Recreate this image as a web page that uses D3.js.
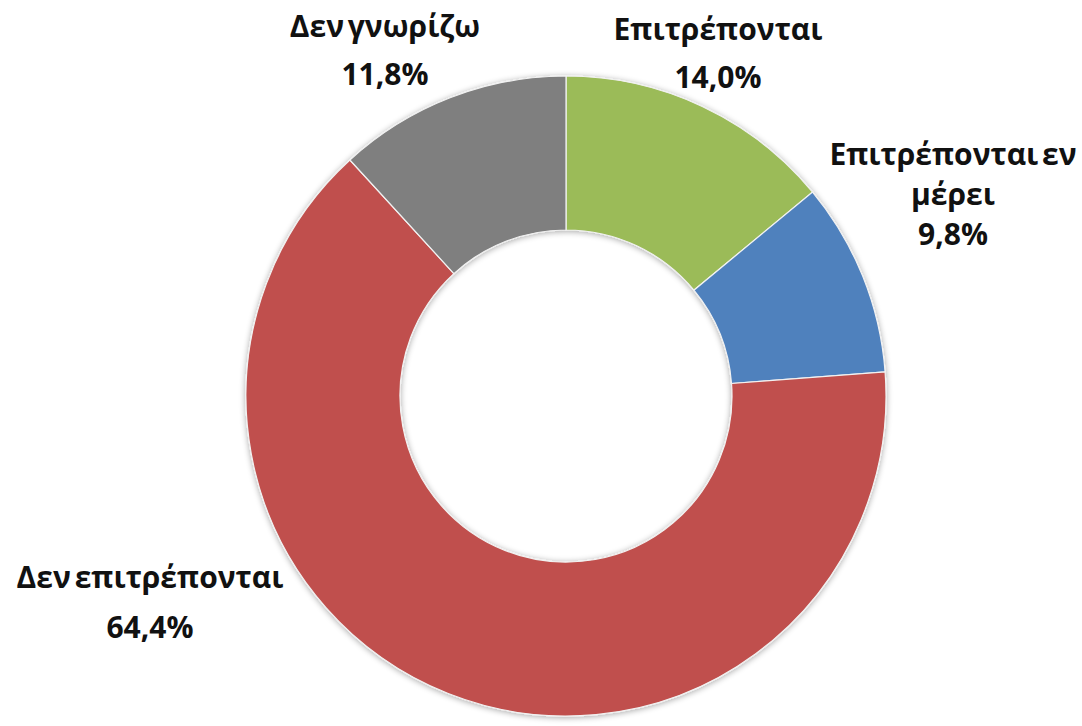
<!DOCTYPE html>
<html>
<head>
<meta charset="utf-8">
<script src="https://cdn.jsdelivr.net/npm/d3@7"></script>
<style>
  html, body { margin: 0; padding: 0; background: #fff; }
  svg { display: block; }
</style>
</head>
<body>
<svg width="1082" height="726"></svg>
<script>
// data
var categories = ['Επιτρέπονται', 'Επιτρέπονται εν μέρει', 'Δεν επιτρέπονται', 'Δεν γνωρίζω']
var values = [14.0, 9.8, 64.4, 11.8]
var labelLines = [
  ['Επιτρέπονται'],
  ['Επιτρέπονται εν', 'μέρει'],
  ['Δεν επιτρέπονται'],
  ['Δεν γνωρίζω']
]
var colors = ['#9bbb59', '#4f81bd', '#c0504d', '#7f7f7f']

// layout for labels: [x, y of first line, line step] in page px
var labelAt = [
  [718, 40, 48],
  [953, 165, 40],
  [150, 588, 50],
  [385, 37, 48]
]

var svg = d3.select('svg'),
    cx = 566,
    cy = 396,
    outerR = 320,
    innerR = 166

var fmt = function(v) { return d3.format('.1f')(v).replace('.', ',') + '%' }

var defs = svg.append('defs')
var filter = defs.append('filter')
    .attr('id', 'shadow')
    .attr('x', '-20%').attr('y', '-20%')
    .attr('width', '140%').attr('height', '140%')
filter.append('feGaussianBlur').attr('in', 'SourceAlpha').attr('stdDeviation', 3)
filter.append('feOffset').attr('dx', 0).attr('dy', 1).attr('result', 'blur')
filter.append('feComponentTransfer').append('feFuncA').attr('type', 'linear').attr('slope', 0.35)
var merge = filter.append('feMerge')
merge.append('feMergeNode')
merge.append('feMergeNode').attr('in', 'SourceGraphic')

var pie = d3.pie().sort(null).value(function(d) { return d })
var arc = d3.arc().innerRadius(innerR).outerRadius(outerR)

var g = svg.append('g')
    .attr('transform', 'translate(' + cx + ',' + cy + ')')
    .attr('filter', 'url(#shadow)')

g.selectAll('path')
  .data(pie(values))
  .enter().append('path')
    .attr('d', arc)
    .attr('fill', function(d, i) { return colors[i] })
    .attr('stroke', '#f2f2f2')
    .attr('stroke-width', 1.2)

var labels = svg.append('g')
    .attr('font-family', '"Open Sans", "Noto Sans", sans-serif')
    .attr('font-size', 30)
    .attr('font-weight', 700)
    .attr('word-spacing', -4)
    .attr('fill', '#111')
    .attr('text-anchor', 'middle')

values.forEach(function(v, i) {
  var lines = labelLines[i].concat([fmt(v)])
  var t = labels.append('text')
      .attr('x', labelAt[i][0])
      .attr('y', labelAt[i][1])
  lines.forEach(function(s, j) {
    t.append('tspan')
      .attr('x', labelAt[i][0])
      .attr('dy', j === 0 ? 0 : labelAt[i][2])
      .text(s)
  })
})
</script>
</body>
</html>
